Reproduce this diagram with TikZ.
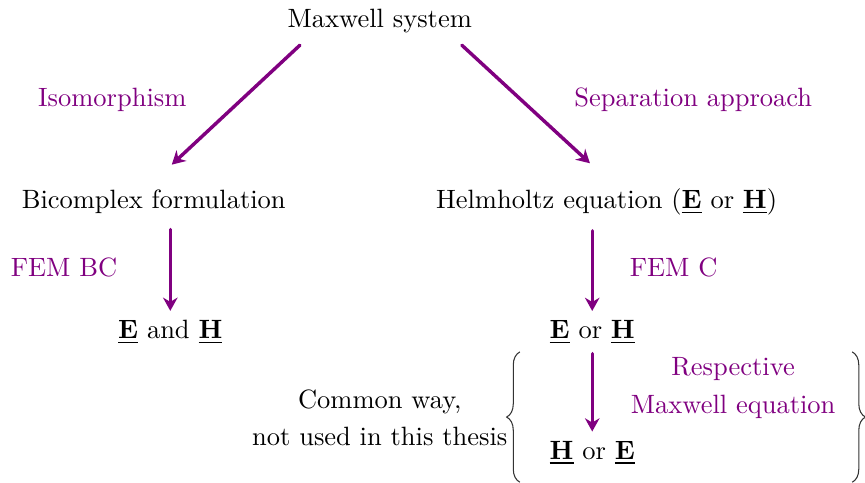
\documentclass[tikz,border=0pt]{standalone}
\usepackage{tikz}
\usetikzlibrary{arrows.meta,positioning,decorations.pathreplacing}
\usepackage{amsmath, amsfonts}
\definecolor{mpurple}{RGB}{128,0,128}

\begin{document}
\begin{tikzpicture}[on grid, node distance={20mm},
    main/.style = {inner sep=2pt},
    lbl/.style = {text=mpurple, align=center},
    flow/.style = {-{Stealth[length=5pt,width=5.5pt]}, draw=mpurple, line width=1.3pt, line cap=round},
    brc/.style = {decorate, decoration={brace, amplitude=5pt}, draw=black!80, thin}]
            \useasboundingbox (0,0) rectangle (11.48,-6.40);

            \node[main] (max) at (5.04,-0.28) {Maxwell system};
            \node[main] (bic) [below left=2.40cm and 3.00cm of max] {Bicomplex formulation};
            \node[main] (helm) [below right=2.40cm and 3.01cm of max] {Helmholtz equation ($\underline{\mathbf{E}}$ or $\underline{\mathbf{H}}$)};
            \node[main] (eandh) [below right=1.73cm and 0.22cm of bic] {$\underline{\mathbf{E}}$ and $\underline{\mathbf{H}}$};
            \node[main] (eorh) [below left=1.73cm and 0.19cm of helm] {$\underline{\mathbf{E}}$ or $\underline{\mathbf{H}}$};
            \node[main] (hore) [below=1.60cm of eorh] {$\underline{\mathbf{H}}$ or $\underline{\mathbf{E}}$};

            \node[lbl] (iso) [below left=1.05cm and 3.55cm of max] {Isomorphism};
            \node[lbl] (sep) [below right=1.05cm and 4.16cm of max] {Separation approach};
            \node[lbl] (fembc) [below left=0.87cm and 1.19cm of bic] {FEM BC};
            \node[lbl] (femc) [below right=0.87cm and 0.89cm of helm] {FEM C};
            \node[lbl, align=center] (resp) [above right=0.86cm and 1.87cm of hore] {Respective\\[2pt]Maxwell equation};
            \node[align=center] (common) [above left=0.47cm and 2.82cm of hore] {Common way,\\[2pt]not used in this thesis};

            % arrows
            \coordinate (a1) at (3.98,-0.60);
            \coordinate (a2) at (6.13,-0.60);
            \draw[flow] (a1) -- ([xshift=0.24cm, yshift=0.26cm]bic.north);
            \draw[flow] (a2) -- ([xshift=-0.22cm, yshift=0.26cm]helm.north);
            \draw[flow] ([xshift=0.22cm, yshift=-0.13cm]bic.south) -- ([yshift=0.05cm]eandh.north);
            \draw[flow] ([xshift=-0.19cm, yshift=-0.13cm]helm.south) -- ([yshift=0.05cm]eorh.north);
            \draw[flow] ([yshift=-0.05cm]eorh.south) -- ([yshift=0.05cm]hore.north);

            % braces
            \coordinate (lb1) at (6.90,-6.40);
            \coordinate (lb2) at (6.90,-4.67);
            \coordinate (rb1) at (11.31,-4.67);
            \coordinate (rb2) at (11.31,-6.40);
            \draw[brc] (lb1) -- (lb2);
            \draw[brc] (rb1) -- (rb2);
        \end{tikzpicture}
\end{document}
